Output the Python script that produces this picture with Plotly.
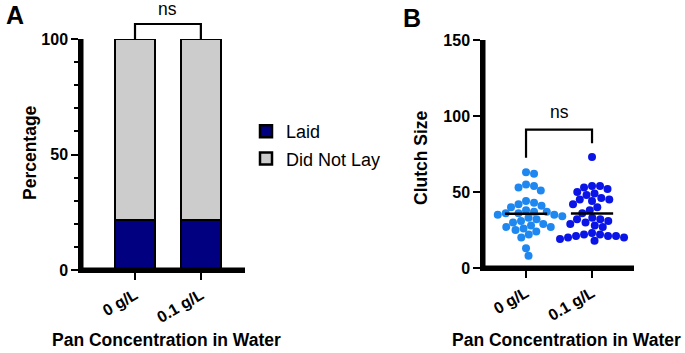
import numpy as np
import plotly.graph_objects as go

W, H = 685, 353
FONT = "Liberation Sans, Arial, sans-serif"

# ---------------- data ----------------
categories = ["0 g/L", "0.1 g/L"]
laid_pct = [21.5, 21.5]
not_laid_pct = [78.5, 78.5]

clutch_0 = [63, 62, 55, 54, 53, 51, 44, 43, 42, 41, 40, 38, 37, 37, 36, 36, 35,
            35, 34, 33, 32, 31, 30, 29, 28, 27, 27, 26, 25, 24, 22, 20, 13, 8]
clutch_01 = [73, 54, 54, 53, 52, 50, 49, 48, 46, 45, 45, 44, 42, 40, 38, 36, 33,
             32, 32, 31, 30, 29, 28, 27, 23, 22, 22, 21, 21, 21, 20, 20, 19, 18]

# ---------------- layout geometry ----------------
A_x0, A_x1 = 81, 245
A_ybot, A_ytop = 270, 39
B_x0, B_x1 = 483, 634
B_ybot, B_ytop = 268, 40

A_xrange = [-0.82, 1.67]
A_yrange = [0, 100]
B_xrange = [-0.652, 1.636]
B_yrange = [0, 150]


def swarm(values, px_per_x, px_per_y, d=8.0, step=0.25):
    """Simple beeswarm: returns x offsets (data units) for each value."""
    order = np.argsort(values)[::-1]
    placed = []
    offs = np.zeros(len(values))
    for i in order:
        y = values[i] * px_per_y
        k = 0
        while True:
            cands = [0.0] if k == 0 else [k * step, -k * step]
            ok_c = None
            for c in cands:
                ok = True
                for (px, py) in placed:
                    if (px - c) ** 2 + (py - y) ** 2 < d * d:
                        ok = False
                        break
                if ok:
                    ok_c = c
                    break
            if ok_c is not None:
                placed.append((ok_c, y))
                offs[i] = ok_c / px_per_x
                break
            k += 1
    return offs


bpx_x = (B_x1 - B_x0) / (B_xrange[1] - B_xrange[0])
bpx_y = (B_ybot - B_ytop) / (B_yrange[1] - B_yrange[0])

fig = go.Figure()

# ---- Panel A: stacked bars ----
fig.add_trace(go.Bar(x=[0, 1], y=laid_pct, name="Laid", legendgroup="a",
                     marker=dict(color="#000080", line=dict(color="black", width=2.5)),
                     width=0.61, xaxis="x", yaxis="y"))
fig.add_trace(go.Bar(x=[0, 1], y=not_laid_pct, name="Did Not Lay", legendgroup="b",
                     marker=dict(color="#CCCCCC", line=dict(color="black", width=2.5)),
                     width=0.61, xaxis="x", yaxis="y"))

# ---- Panel B: scatter ----
colors = ["#1E88F0", "#0A14E6"]
for gi, vals in enumerate([clutch_0, clutch_01]):
    vals = np.array(vals, dtype=float)
    offs = swarm(vals, bpx_x, bpx_y)
    fig.add_trace(go.Scatter(x=gi + offs, y=vals, mode="markers",
                             marker=dict(color=colors[gi], size=8),
                             showlegend=False, xaxis="x2", yaxis="y2"))
    m = vals.mean()
    fig.add_trace(go.Scatter(x=[gi - 0.32, gi + 0.32], y=[m, m], mode="lines",
                             line=dict(color="black", width=2.5),
                             showlegend=False, xaxis="x2", yaxis="y2"))

fig.add_trace(go.Scatter(x=[0, 0, 1, 1], y=[72.5, 91, 91, 82], mode="lines",
                         line=dict(color="black", width=2.2), showlegend=False,
                         xaxis="x2", yaxis="y2"))

# ---- axis frame lines drawn as traces along each panel's range edges ----
for xr, yr, xa, ya in [(A_xrange, A_yrange, "x", "y"), (B_xrange, B_yrange, "x2", "y2")]:
    fig.add_trace(go.Scatter(x=[xr[0], xr[0], xr[1]], y=[yr[1], yr[0], yr[0]],
                             mode="lines", line=dict(color="black", width=5),
                             showlegend=False, hoverinfo="skip", xaxis=xa, yaxis=ya))

# ---- panel A bracket on an invisible helper subplot reaching the top ----
ky = (A_ybot - A_ytop) / (A_yrange[1] - A_yrange[0])
fig.add_trace(go.Scatter(x=[0, 0, 1, 1], y=[100, 106.5, 106.5, 100], mode="lines",
                         line=dict(color="black", width=2.2), showlegend=False,
                         hoverinfo="skip", xaxis="x3", yaxis="y3"))

bold_ticks = [f"<b>{c}</b>" for c in categories]
axis_common = dict(showgrid=False, zeroline=False, showline=True, linecolor="black",
                   linewidth=2.5, ticks="outside", tickcolor="black", tickwidth=2,
                   ticklen=7, automargin=False,
                   tickfont=dict(family=FONT, size=16, color="black"))

fig.update_layout(
    width=W, height=H, margin=dict(l=0, r=0, t=0, b=0, autoexpand=False),
    paper_bgcolor="white", plot_bgcolor="rgba(0,0,0,0)",
    barmode="stack", bargap=0,
    font=dict(family=FONT, color="black"),
    xaxis=dict(axis_common, domain=[A_x0 / W, A_x1 / W], range=A_xrange,
               tickmode="array", tickvals=[0, 1], ticktext=bold_ticks, tickangle=-30, anchor="y"),
    yaxis=dict(axis_common, domain=[(H - A_ybot) / H, (H - A_ytop) / H], range=A_yrange,
               tickmode="linear", tick0=0, dtick=50, tickprefix="<b>", ticksuffix="</b>",
               anchor="x",
               minor=dict(tickmode="linear", tick0=0, dtick=10, ticks="outside",
                          ticklen=4, tickwidth=2, tickcolor="black")),
    xaxis3=dict(domain=[A_x0 / W, A_x1 / W], range=A_xrange, visible=False, anchor="y3"),
    yaxis3=dict(domain=[(H - A_ybot) / H, 1], range=[0, 100 + A_ytop / ky],
                visible=False, anchor="x3"),
    xaxis2=dict(axis_common, domain=[B_x0 / W, B_x1 / W], range=B_xrange,
                tickmode="array", tickvals=[0, 1], ticktext=bold_ticks, tickangle=-30, anchor="y2"),
    yaxis2=dict(axis_common, domain=[(H - B_ybot) / H, (H - B_ytop) / H], range=B_yrange,
                tickmode="linear", tick0=0, dtick=50, tickprefix="<b>", ticksuffix="</b>",
                anchor="x2"),
    legend=dict(x=246 / W, y=(H - 113) / H, xanchor="left", yanchor="top",
                traceorder="grouped", tracegroupgap=1,
                font=dict(family=FONT, size=18, color="black"),
                bgcolor="rgba(0,0,0,0)"),
    showlegend=True,
)

bold = dict(family=FONT, size=17.5, color="black")
ann = [
    dict(text="<b>A</b>", x=4 / W, y=(H - 15) / H, font=dict(family=FONT, size=25, color="black")),
    dict(text="<b>B</b>", x=401 / W, y=(H - 18) / H, font=dict(family=FONT, size=25, color="black")),
    dict(text="<b>Pan Concentration in Water</b>", x=166 / W, y=(H - 340) / H, font=bold, xanchor="center"),
    dict(text="<b>Pan Concentration in Water</b>", x=566 / W, y=(H - 340) / H, font=bold, xanchor="center"),
    dict(text="<b>Percentage</b>", x=30 / W, y=(H - 153) / H, font=bold, textangle=-90, xanchor="center"),
    dict(text="<b>Clutch Size</b>", x=421 / W, y=(H - 158) / H, font=bold, textangle=-90, xanchor="center"),
]
for a in ann:
    fig.add_annotation(xref="paper", yref="paper", showarrow=False,
                       xanchor=a.get("xanchor", "left"), yanchor="middle",
                       **{k: v for k, v in a.items() if k not in ("xanchor",)})

fig.add_annotation(text="ns", x=0.5, y=113, xref="x3", yref="y3", showarrow=False,
                   font=dict(family=FONT, size=17.5, color="black"), yanchor="middle")
fig.add_annotation(text="ns", x=0.5, y=102.7, xref="x2", yref="y2", showarrow=False,
                   font=dict(family=FONT, size=17.5, color="black"), yanchor="middle")

fig.write_html("out.html")
